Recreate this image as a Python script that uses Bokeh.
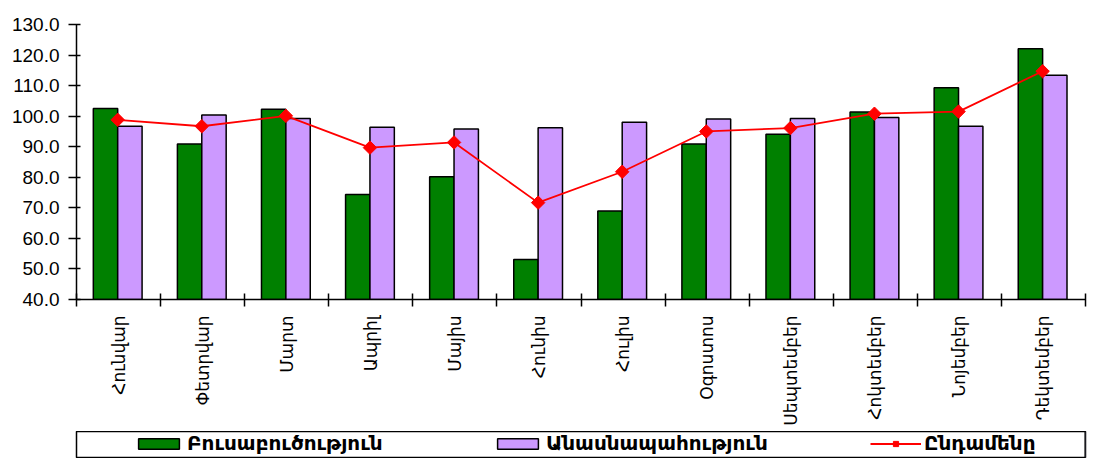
import numpy as np
from bokeh.plotting import figure
from bokeh.models import (Range1d, FixedTicker, NumeralTickFormatter, ColumnDataSource,
                          Legend, LegendItem)
from bokeh.layouts import column
from bokeh.embed import file_html
from bokeh.resources import INLINE

months = ["Հունվար", "Փետրվար", "Մարտ", "Ապրիլ", "Մայիս", "Հունիս",
          "Հուլիս", "Օգոստոս", "Սեպտեմբեր", "Հոկտեմբեր", "Նոյեմբեր", "Դեկտեմբեր"]
crop = [102.5, 90.9, 102.3, 74.4, 80.2, 53.1, 69.0, 90.9, 94.1, 101.4, 109.3, 122.1]
livestock = [96.7, 100.4, 99.2, 96.4, 95.8, 96.2, 98.0, 99.1, 99.2, 99.6, 96.7, 113.4]
total = [98.8, 96.7, 100.1, 89.7, 91.4, 71.7, 81.8, 95.0, 96.1, 100.8, 101.5, 114.7]
names = ["Բուսաբուծություն", "Անասնապահություն", "Ընդամենը"]

GREEN = "#008000"
PURPLE = "#CC99FF"
RED = "#FF0000"
FONT = "Liberation Sans"
AFONT = "DejaVu Sans"

idx = np.arange(len(months))
src = ColumnDataSource(dict(
    xg=idx + 0.345, xp=idx + 0.635, xl=idx + 0.49,
    crop=crop, livestock=livestock, total=total))

p = figure(width=1090, height=431, output_backend="svg", toolbar_location=None,
           x_range=Range1d(0, 12), y_range=Range1d(40, 130),
           min_border_left=76, min_border_right=1, min_border_top=24, min_border_bottom=132)
p.outline_line_color = None
p.grid.visible = False
p.background_fill_color = "white"

p.vbar(x="xg", top="crop", bottom=40, width=0.29, source=src,
       fill_color=GREEN, line_color="black", line_width=1.5)
p.vbar(x="xp", top="livestock", bottom=40, width=0.29, source=src,
       fill_color=PURPLE, line_color="black", line_width=1.5)
p.line(x="xl", y="total", source=src, line_color=RED, line_width=1.8)
p.scatter(x="xl", y="total", source=src, marker="square", angle=np.pi / 4,
          size=9.5, fill_color=RED, line_color=RED)

# x axis: labels at centers, ticks at boundaries (minor)
xa = p.xaxis[0]
xa.ticker = FixedTicker(ticks=list(idx + 0.5), minor_ticks=list(range(13)))
xa.major_label_overrides = {float(i + 0.5): m for i, m in enumerate(months)}
xa.major_label_orientation = np.pi / 2
xa.major_tick_line_color = None
xa.major_tick_in = 0
xa.major_tick_out = 0
xa.major_label_standoff = 9
xa.minor_tick_in = 6
xa.minor_tick_out = 7
xa.minor_tick_line_color = "black"
xa.minor_tick_line_width = 1.5
xa.axis_line_width = 1.5
xa.major_label_text_font = AFONT
xa.major_label_text_font_size = "17px"
xa.major_label_text_color = "black"

ya = p.yaxis[0]
ya.ticker = FixedTicker(ticks=list(range(40, 131, 10)))
ya.formatter = NumeralTickFormatter(format="0.0")
ya.major_tick_in = 4
ya.major_tick_out = 8
ya.major_tick_line_width = 1.5
ya.minor_tick_line_color = None
ya.axis_line_width = 1.5
ya.major_label_standoff = 9
ya.major_label_text_font = FONT
ya.major_label_text_font_size = "19px"
ya.major_label_text_color = "black"

# legend figure (box below)
p2 = figure(width=1090, height=27, output_backend="svg", toolbar_location=None,
            x_range=Range1d(0, 1), y_range=Range1d(0, 1),
            x_axis_location=None, y_axis_location=None,
            min_border_left=72, min_border_right=5, min_border_top=0, min_border_bottom=0)
p2.grid.visible = False
p2.outline_line_color = "black"
p2.outline_line_width = 1.5
# off-screen placeholder points so the legend glyphs are drawn
dummy = ColumnDataSource(dict(x=[5.0], y=[5.0]))
r1 = p2.vbar(x="x", top="y", width=0.1, source=dummy, fill_color=GREEN, line_color="black", line_width=1.5)
r2 = p2.vbar(x="x", top="y", width=0.1, source=dummy, fill_color=PURPLE, line_color="black", line_width=1.5)
r3 = p2.line(x="x", y="y", source=dummy, line_color=RED, line_width=1.8)
r4 = p2.scatter(x="x", y="y", source=dummy, marker="square", angle=np.pi / 4, size=11,
                fill_color=RED, line_color=RED)

for rends, name, xpos in [([r1], names[0], 57), ([r2], names[1], 416), ([r3, r4], names[2], 794)]:
    lg = Legend(items=[LegendItem(label=name, renderers=rends)], location=(xpos, 3),
                orientation="horizontal", padding=0, margin=0, spacing=0,
                border_line_color=None, background_fill_alpha=0,
                glyph_width=51, glyph_height=13, label_standoff=3,
                label_text_font=AFONT, label_text_font_style="bold",
                label_text_font_size="20px", label_text_color="black")
    p2.add_layout(lg, "center")

layout = column(p, p2, spacing=0)
open("out.html", "w").write(file_html(layout, INLINE))
